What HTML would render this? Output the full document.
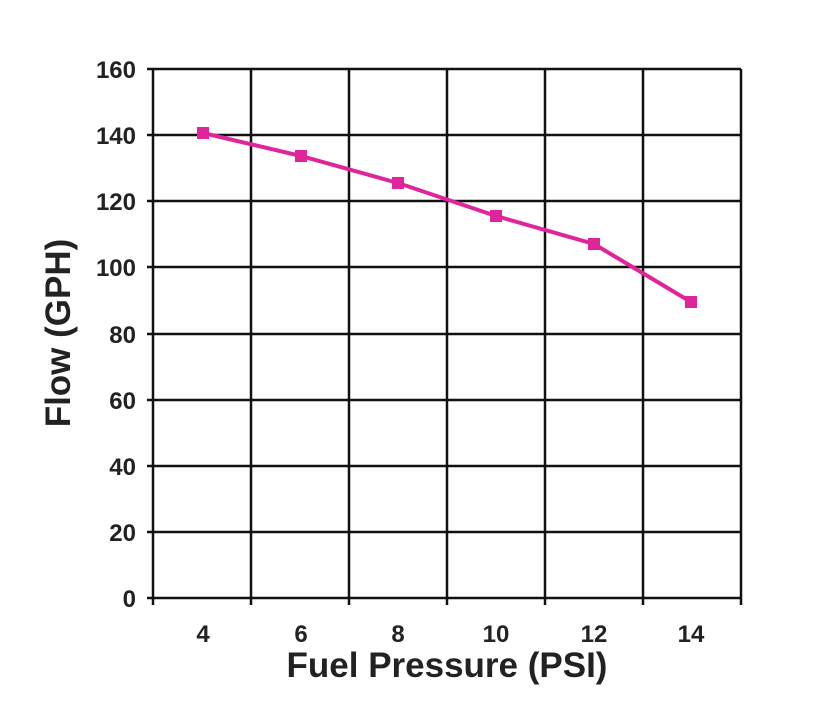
<!DOCTYPE html>
<html><head><style>body{margin:0;background:#fff}</style></head><body>
<svg width="819" height="700" xmlns="http://www.w3.org/2000/svg" font-family="Liberation Sans, Arial, sans-serif" font-weight="bold">
<g stroke="#111" stroke-width="2.5">
<line x1="153" y1="69" x2="153" y2="605"/><line x1="251" y1="69" x2="251" y2="605"/><line x1="349" y1="69" x2="349" y2="605"/><line x1="447" y1="69" x2="447" y2="605"/><line x1="545" y1="69" x2="545" y2="605"/><line x1="643" y1="69" x2="643" y2="605"/><line x1="741" y1="69" x2="741" y2="605"/>
<line x1="147" y1="69" x2="741" y2="69"/><line x1="147" y1="135" x2="741" y2="135"/><line x1="147" y1="201" x2="741" y2="201"/><line x1="147" y1="267" x2="741" y2="267"/><line x1="147" y1="334" x2="741" y2="334"/><line x1="147" y1="400" x2="741" y2="400"/><line x1="147" y1="466" x2="741" y2="466"/><line x1="147" y1="532" x2="741" y2="532"/><line x1="147" y1="598" x2="741" y2="598"/>
</g>
<g font-size="24" text-anchor="end" fill="#222">
<text x="136" y="78">160</text><text x="136" y="144">140</text><text x="136" y="210">120</text><text x="136" y="276">100</text><text x="136" y="343">80</text><text x="136" y="409">60</text><text x="136" y="475">40</text><text x="136" y="541">20</text><text x="136" y="607">0</text>
</g>
<g font-size="24" text-anchor="middle" fill="#222">
<text x="203" y="642">4</text><text x="301" y="642">6</text><text x="398" y="642">8</text><text x="496" y="642">10</text><text x="594" y="642">12</text><text x="691" y="642">14</text>
</g>
<text x="447" y="677" font-size="35" text-anchor="middle" fill="#222">Fuel Pressure (PSI)</text>
<text transform="translate(70,333) rotate(-90)" font-size="35" text-anchor="middle" fill="#222">Flow (GPH)</text>
<polyline points="203,133 301,156 398,183 496,216 594,244 691,302" fill="none" stroke="#e0259a" stroke-width="4"/>
<g fill="#e0259a">
<rect x="197" y="127" width="12" height="12"/><rect x="295" y="150" width="12" height="12"/><rect x="392" y="177" width="12" height="12"/><rect x="490" y="210" width="12" height="12"/><rect x="588" y="238" width="12" height="12"/><rect x="685" y="296" width="12" height="12"/>
</g>
</svg>
</body></html>
